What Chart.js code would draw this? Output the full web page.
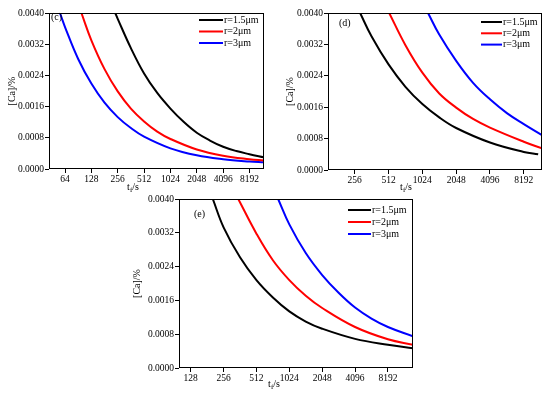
<!DOCTYPE html>
<html>
<head>
<meta charset="utf-8">
<script src="https://cdn.jsdelivr.net/npm/chart.js@4.4.0/dist/chart.umd.min.js"></script>
<style>
  body { margin: 0; background: #fff; }
  #wrap { position: relative; width: 550px; height: 396px; background: #fff; overflow: hidden; }
  canvas { position: absolute; }
</style>
</head>
<body>
<div id="wrap">
  <canvas id="panelC" width="275" height="195" style="left:0;top:0"></canvas>
  <canvas id="panelD" width="275" height="195" style="left:275px;top:0"></canvas>
  <canvas id="panelE" width="290" height="206" style="left:130px;top:190px"></canvas>
</div>
<script>
const seriesLabels = ['r=1.5μm', 'r=2μm', 'r=3μm'];
const seriesColors = ['#000000', '#ff0000', '#0000ff'];
const yTicks = [0, 0.0008, 0.0016, 0.0024, 0.0032, 0.0040];

// panel (c)
const cTicks = [64, 128, 256, 512, 1024, 2048, 4096, 8192];
const cBlackT = [240, 256, 362, 512, 724, 1024, 1448, 2048, 2896, 4096, 5793, 8192, 12000];
const cBlackCa = [0.0040, 0.00385, 0.0031, 0.00245, 0.00195, 0.00155, 0.00121, 0.00093, 0.00073, 0.00057, 0.00046, 0.00038, 0.0003];
const cRedT = [98.5, 128, 181, 256, 362, 512, 724, 1024, 2048, 4096, 8192, 12000];
const cRedCa = [0.0040, 0.0033, 0.00256, 0.00199, 0.00155, 0.00122, 0.00096, 0.00077, 0.0005, 0.00034, 0.00025, 0.00022];
const cBlueT = [56, 64, 90.5, 128, 181, 256, 362, 512, 1024, 2048, 4096, 8192, 12000];
const cBlueCa = [0.0040, 0.00364, 0.00282, 0.00219, 0.0017, 0.00133, 0.00105, 0.00083, 0.00053, 0.00035, 0.00025, 0.00019, 0.00017];

// panel (d)
const dTicks = [256, 512, 1024, 2048, 4096, 8192];
const dBlackT = [286, 362, 512, 724, 1024, 1448, 2048, 4096, 8192, 11000];
const dBlackCa = [0.0040, 0.0034, 0.00269, 0.00212, 0.00168, 0.00134, 0.00107, 0.0007, 0.00046, 0.0004];
const dRedT = [519, 724, 1024, 1448, 2048, 2896, 4096, 8192, 11900];
const dRedCa = [0.0040, 0.00318, 0.00248, 0.00195, 0.00159, 0.0013, 0.00108, 0.00072, 0.00055];
const dBlueT = [1151, 1448, 2048, 2896, 4096, 5793, 8192, 11900];
const dBlueCa = [0.0040, 0.00345, 0.00278, 0.00222, 0.0018, 0.00145, 0.00117, 0.00089];

// panel (e)
const eTicks = [128, 256, 512, 1024, 2048, 4096, 8192];
const eBlackT = [204, 256, 362, 512, 724, 1024, 1448, 2048, 4096, 8192, 13900];
const eBlackCa = [0.0040, 0.00333, 0.00262, 0.00208, 0.00167, 0.00134, 0.0011, 0.00093, 0.00069, 0.00055, 0.00047];
const eRedT = [349, 512, 724, 1024, 1448, 2048, 4096, 8192, 13900];
const eRedCa = [0.0040, 0.00318, 0.00255, 0.00208, 0.00171, 0.00142, 0.00097, 0.00068, 0.00055];
const eBlueT = [809, 1024, 1448, 2048, 2896, 4096, 5793, 8192, 13900];
const eBlueCa = [0.0040, 0.0034, 0.00272, 0.0022, 0.00178, 0.00143, 0.00117, 0.00097, 0.00075];

const FONT = 'Liberation Serif';

// frame, legend, panel tag and the x title with subscript f
const decor = {
  id: 'decor',
  afterDraw(chart, args, o) {
    const ctx = chart.ctx, a = chart.chartArea;
    ctx.save();
    ctx.strokeStyle = '#000';
    ctx.lineWidth = 1;
    ctx.strokeRect(Math.round(a.left) + 0.5, Math.round(a.top) + 0.5,
      Math.round(a.right - a.left) - 1, Math.round(a.bottom - a.top) - 1);

    // legend
    ctx.font = '10px "' + FONT + '"';
    ctx.textBaseline = 'middle';
    ctx.textAlign = 'left';
    chart.data.datasets.forEach((ds, i) => {
      const y = o.legend.y + i * o.legend.dy;
      ctx.strokeStyle = ds.borderColor;
      ctx.lineWidth = 2;
      ctx.beginPath();
      ctx.moveTo(o.legend.x, y);
      ctx.lineTo(o.legend.x + o.legend.len, y);
      ctx.stroke();
      ctx.fillStyle = '#000';
      ctx.fillText(ds.label, o.legend.x + o.legend.len + 1, y);
    });

    // panel tag
    ctx.fillStyle = '#000';
    ctx.font = '10px "' + FONT + '"';
    ctx.fillText(o.tag.text, o.tag.x, o.tag.y);

    // x title: t_f/s
    const big = '10px "' + FONT + '"', small = '7px "' + FONT + '"';
    ctx.textBaseline = 'alphabetic';
    ctx.font = big; const w1 = ctx.measureText('t').width;
    ctx.font = small; const w2 = ctx.measureText('f').width;
    ctx.font = big; const w3 = ctx.measureText('/s').width;
    let x = o.xTitle.x - (w1 + w2 + w3) / 2;
    const y = o.xTitle.y;
    ctx.font = big; ctx.fillText('t', x, y); x += w1;
    ctx.font = small; ctx.fillText('f', x, y + 2); x += w2;
    ctx.font = big; ctx.fillText('/s', x, y);
    ctx.restore();
  }
};

function makePanel(id, xTicks, xMin, xMax, series, box, deco) {
  const datasets = series.map((s, i) => ({
    label: seriesLabels[i],
    data: s[0].map((t, k) => ({ x: t, y: s[1][k] })),
    borderColor: seriesColors[i],
    borderWidth: 2,
    pointRadius: 0,
    fill: false,
    tension: 0.4
  }));
  const tickFont = { family: FONT, size: 9.5 };
  return new Chart(document.getElementById(id), {
    type: 'line',
    data: { datasets },
    options: {
      responsive: false,
      animation: false,
      devicePixelRatio: 1,
      layout: { padding: { left: 0, top: box.top, right: box.right, bottom: 0 } },
      plugins: { legend: { display: false }, tooltip: { enabled: false }, decor: deco },
      scales: {
        x: {
          type: 'logarithmic',
          min: xMin,
          max: xMax,
          afterBuildTicks: s => { s.ticks = xTicks.map(v => ({ value: v })); },
          afterFit: s => { s.height = box.xh; },
          border: { display: false },
          grid: { drawOnChartArea: false, tickLength: 4, color: '#000' },
          ticks: { callback: v => String(v), font: tickFont, color: '#000', padding: 1, maxRotation: 0, autoSkip: false }
        },
        y: {
          type: 'linear',
          min: 0,
          max: 0.004,
          afterBuildTicks: s => { s.ticks = yTicks.map(v => ({ value: v })); },
          afterFit: s => { s.width = box.yw; },
          border: { display: false },
          grid: { drawOnChartArea: false, tickLength: 4, color: '#000' },
          ticks: { callback: v => v.toFixed(4), font: tickFont, color: '#000', padding: 1 },
          title: { display: true, text: '[Ca]/%', color: '#000', font: { family: FONT, size: 10 }, padding: { top: box.tp, bottom: 0 } }
        }
      }
    },
    plugins: [decor]
  });
}

makePanel('panelC', cTicks, 42, 12000,
  [[cBlackT, cBlackCa], [cRedT, cRedCa], [cBlueT, cBlueCa]],
  { top: 13, right: 11, xh: 26, yw: 49, tp: 6 },
  { legend: { x: 199, y: 20, dy: 11.5, len: 24 }, tag: { text: '(c)', x: 51, y: 17 }, xTitle: { x: 133, y: 190 } });

makePanel('panelD', dTicks, 148, 11900,
  [[dBlackT, dBlackCa], [dRedT, dRedCa], [dBlueT, dBlueCa]],
  { top: 13, right: 8, xh: 25, yw: 53, tp: 9 },
  { legend: { x: 206, y: 22, dy: 11.3, len: 21 }, tag: { text: '(d)', x: 64, y: 23 }, xTitle: { x: 131, y: 190 } });

makePanel('panelE', eTicks, 100, 13900,
  [[eBlackT, eBlackCa], [eRedT, eRedCa], [eBlueT, eBlueCa]],
  { top: 9, right: 7, xh: 28, yw: 49, tp: 1 },
  { legend: { x: 218, y: 20, dy: 12, len: 23 }, tag: { text: '(e)', x: 64, y: 24 }, xTitle: { x: 144, y: 197 } });
</script>
</body>
</html>
